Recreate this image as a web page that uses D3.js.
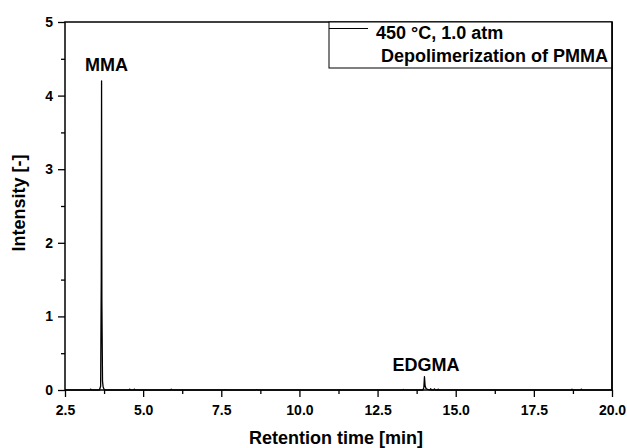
<!DOCTYPE html>
<html>
<head>
<meta charset="utf-8">
<script src="https://cdn.jsdelivr.net/npm/d3@7"></script>
<style>
  body { margin: 0; background: #fff; }
  svg text { font-family: "Liberation Sans", Arial, sans-serif; font-weight: bold; fill: #000; }
</style>
</head>
<body>
<div id="chart"></div>
<script>
// chromatogram
var times = [2.5, 3.30, 3.32, 3.34, 3.60, 3.64, 3.66, 3.67, 3.68, 3.70, 3.72, 3.75, 3.80,
  4.55, 4.57, 4.59, 4.70, 4.72, 4.74, 5.88, 5.90, 5.92, 7.6, 7.62, 7.64, 8.6, 8.62, 8.64,
  13.30, 13.32, 13.34, 13.95, 13.98, 14.00, 14.02, 14.05, 14.10, 14.18, 14.20, 14.22,
  14.30, 14.32, 14.34, 14.42, 14.44, 14.46, 18.70, 18.72, 18.74, 19.00, 19.02, 19.04, 20.0];
var intensity = [0, 0, 0.012, 0, 0, 0.05, 1.5, 4.2, 1.2, 0.12, 0.04, 0.01, 0,
  0, 0.012, 0, 0, 0.012, 0, 0, 0.01, 0, 0, 0.006, 0, 0, 0.006, 0,
  0, 0.008, 0, 0, 0.03, 0.18, 0.06, 0.02, 0.01, 0, 0.018, 0,
  0, 0.015, 0, 0, 0.012, 0, 0, 0.01, 0, 0, 0.012, 0, 0];

var peakNames = ['MMA', 'EDGMA'];
var peakTimes = [3.83, 14.05];
var peakLabelY = [4.34, 0.262];

var xTicks = [2.5, 5.0, 7.5, 10.0, 12.5, 15.0, 17.5, 20.0];
var yTicks = [0, 1, 2, 3, 4, 5];
var legendLines = ['450 °C, 1.0 atm', 'Depolimerization of PMMA'];

var W = 627, H = 448;
var margin = {top: 22, right: 15, bottom: 58, left: 65};
var w = W - margin.left - margin.right,
    h = H - margin.top - margin.bottom;

var svg = d3.select('#chart').append('svg')
    .attr('width', W).attr('height', H);
var g = svg.append('g')
    .attr('transform', 'translate(' + margin.left + ',' + margin.top + ')');

var x = d3.scaleLinear().domain([2.5, 20]).range([0, w]);
var y = d3.scaleLinear().domain([0, 5]).range([h, 0]);

// minor ticks first, majors on top
g.append('g').attr('transform', 'translate(0,' + h + ')')
  .call(d3.axisBottom(x).tickValues(d3.range(3.75, 20, 2.5)).tickSize(4).tickFormat(''));
g.append('g')
  .call(d3.axisLeft(y).tickValues(d3.range(0.5, 5, 1)).tickSize(4).tickFormat(''));

g.append('g').attr('transform', 'translate(0,' + h + ')')
  .call(d3.axisBottom(x).tickValues(xTicks).tickSize(7).tickPadding(8).tickFormat(d3.format('.1f')));
g.append('g')
  .call(d3.axisLeft(y).tickValues(yTicks).tickSize(7).tickPadding(5).tickFormat(d3.format('d')));

g.selectAll('.domain').remove();
g.selectAll('.tick line').attr('stroke', '#000').attr('stroke-width', 1.3);
g.selectAll('.tick text').style('font-size', '14px');

// frame
g.append('rect').attr('width', w).attr('height', h)
  .attr('fill', 'none').attr('stroke', '#000').attr('stroke-width', 1.5);

// trace
var line = d3.line().x(function(d, i) { return x(times[i]); })
  .y(function(d) { return y(d); });
g.append('path').datum(intensity)
  .attr('d', line)
  .attr('fill', 'none').attr('stroke', '#000').attr('stroke-width', 1.3)
  .attr('stroke-linejoin', 'round');

// peak labels
g.selectAll('.peak').data(peakNames).enter().append('text')
  .attr('class', 'peak')
  .attr('x', function(d, i) { return x(peakTimes[i]); })
  .attr('y', function(d, i) { return y(peakLabelY[i]); })
  .attr('text-anchor', 'middle')
  .style('font-size', '18px')
  .text(function(d) { return d; });

// legend box
var lg = g.append('g').attr('transform', 'translate(' + (w - 283) + ',0)');
lg.append('rect').attr('width', 283).attr('height', 46)
  .attr('fill', '#fff').attr('stroke', '#000').attr('stroke-width', 1);
lg.append('line').attr('x1', 0).attr('x2', 39).attr('y1', 6.5).attr('y2', 6.5)
  .attr('stroke', '#000').attr('stroke-width', 1);
lg.selectAll('.leg').data(legendLines).enter().append('text')
  .attr('class', 'leg')
  .attr('x', function(d, i) { return i ? 52 : 47; })
  .attr('y', function(d, i) { return 17 + i * 23; })
  .style('font-size', '18px')
  .text(function(d) { return d; });
// right frame edge over the legend
g.append('line').attr('x1', w).attr('x2', w).attr('y1', 0).attr('y2', h)
  .attr('stroke', '#000').attr('stroke-width', 1.5);

// axis titles
svg.append('text')
  .attr('x', 336).attr('y', 444)
  .attr('text-anchor', 'middle').style('font-size', '18px')
  .text('Retention time [min]');
svg.append('text')
  .attr('transform', 'translate(25,203) rotate(-90)')
  .attr('text-anchor', 'middle').style('font-size', '18px')
  .text('Intensity [-]');
</script>
</body>
</html>
